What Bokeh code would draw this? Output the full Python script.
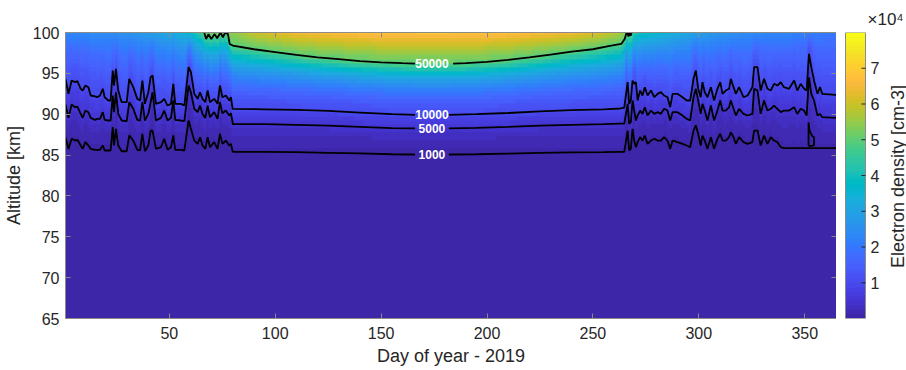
import numpy as np
from bokeh.plotting import figure
from bokeh.models import LinearColorMapper, FixedTicker, LinearAxis, Range1d
from bokeh.layouts import row
from bokeh.embed import file_html
from bokeh.resources import INLINE
from bokeh.core.properties import value

# ---------------- data ----------------
x_ticks = [50, 100, 150, 200, 250, 300, 350]
y_ticks = [65, 70, 75, 80, 85, 90, 95, 100]
cb_ticks = [10000, 20000, 30000, 40000, 50000, 60000, 70000]
cb_tick_labels = ["1", "2", "3", "4", "5", "6", "7"]
contour_levels = ["50000", "10000", "5000", "1000"]

# winter part 1 (days 1-80): contour altitudes [km]
w1_days = [1.0, 2.4, 3.9, 5.5, 6.6, 8.2, 9.1, 10.4, 11.8, 12.9, 14.9, 16.0, 17.3, 18.6, 19.5,
           21.2, 22.3, 23.3, 23.9, 24.8, 25.9, 27.5, 29.9, 31.1, 33.0, 34.9, 36.2, 37.3, 38.5,
           40.1, 41.2, 42.1, 43.7, 46.1, 47.6, 49.2, 50.8, 51.9, 52.8, 55.5, 57.1, 59.1, 60.2,
           61.8, 63.4, 64.5, 65.7, 67.0, 68.1, 69.2, 71.2, 72.8, 73.9, 75.1, 76.7, 78.3, 79.1, 79.9]
w1_c10000 = [94.33, 92.49, 94.12, 93.92, 94.04, 93.11, 92.90, 93.51, 93.31, 92.29, 92.17, 92.08,
             92.29, 93.11, 92.08, 91.68, 91.68, 95.35, 93.51, 95.55, 92.90, 91.47, 91.47, 94.33,
             93.31, 91.88, 91.68, 94.12, 91.27, 92.70, 94.53,
             94.74, 91.27, 91.47, 91.88, 91.06, 91.27, 93.72, 91.27, 91.27, 91.06, 95.76, 95.15,
             92.50, 91.88, 92.69, 91.88, 91.47, 92.90, 91.47, 91.88, 91.27, 93.51, 92.08, 92.29,
             91.68, 92.08, 90.66]
w1_c5000 = [91.19, 89.55, 91.19, 90.86, 90.94, 90.04, 89.55, 90.45, 90.25, 89.55, 89.31, 89.43,
            89.43, 90.25, 89.31, 89.23, 89.23, 92.29, 90.25, 92.69, 90.04, 89.23, 89.14, 91.47,
            90.66, 89.31, 89.23, 91.47, 89.23, 90.04, 91.47,
            92.69, 89.23, 89.55, 90.45, 89.23, 89.55, 91.68, 89.31, 89.23, 89.14, 93.51, 92.69,
            90.66, 90.25, 91.06, 90.04, 89.55, 91.06, 89.63, 90.25, 89.43, 91.47, 90.12, 90.45,
            89.84, 90.12, 89.02]
w1_c1000 = [87.19, 85.76, 86.99, 86.78, 86.87, 86.17, 85.76, 86.58, 86.17, 85.76, 85.64, 85.64,
            85.64, 86.17, 85.56, 85.56, 85.56, 88.42, 86.17, 88.21, 86.17, 85.47, 85.47, 87.40,
            86.78, 85.64, 85.56, 87.60, 85.47, 86.17, 88.00,
            88.00, 85.76, 85.96, 86.99, 85.64, 85.96, 87.40, 85.64, 85.64, 85.56, 89.23, 88.21,
            86.78, 86.37, 87.19, 86.17, 85.76, 87.19, 85.96, 86.58, 85.76, 87.60, 86.37, 86.78,
            86.17, 86.37, 85.47]

# summer part (days 80-263)
s_days = [80, 95, 110, 125, 140, 155, 166, 182, 195, 210, 225, 240, 255, 263]
s_c10000 = [90.66, 90.60, 90.53, 90.40, 90.20, 90.00, 89.93, 89.93, 90.00, 90.15, 90.35, 90.50, 90.60, 90.70]
s_c5000 = [88.80, 88.78, 88.70, 88.60, 88.45, 88.30, 88.27, 88.27, 88.32, 88.45, 88.60, 88.70, 88.78, 88.85]
s_c1000 = [85.40, 85.38, 85.35, 85.28, 85.20, 85.10, 85.07, 85.07, 85.10, 85.18, 85.27, 85.33, 85.37, 85.40]

# winter part 2 (days 265-365)
w2_days = [264.8, 266.4, 267.1, 267.9, 268.7, 269.5, 270.3, 271.1, 272.3, 273.4, 274.5, 275.8,
           277.4, 279.0, 280.5, 282.1, 283.6, 285.2, 286.5, 287.6, 289.9, 292.3, 294.3, 295.9,
           297.5, 298.6, 299.7, 300.9, 301.7, 302.8, 304.1, 305.7, 307.2, 308.8, 310.1, 311.2,
           312.7, 314.3, 315.1, 316.4, 317.5, 319.0, 321.1, 323.0, 325.3, 326.1, 327.7, 329.2,
           330.8, 332.4, 334.0, 335.5, 337.1, 338.7, 340.2, 342.6, 345.0, 346.5, 348.1, 349.7,
           350.9, 352.0, 353.1, 354.4, 356.0, 357.2, 358.3, 365.0]
w2_c10000 = [90.80, 93.92, 91.27, 91.68, 94.12, 93.72, 93.92, 91.68, 92.90, 92.29, 93.31, 92.29,
             92.90, 92.08, 92.49, 92.70, 92.29, 92.08, 90.86, 92.49, 92.49, 92.08, 91.68, 91.68,
             94.33, 95.35, 93.11, 92.08, 93.92, 92.70, 92.08, 93.31, 91.68, 93.11, 93.92, 92.49,
             92.90, 93.11, 94.33, 93.31, 92.49, 93.31, 92.08, 92.29, 93.31, 95.76, 95.76, 92.90,
             94.33, 93.11, 92.90, 93.72, 93.51, 93.92, 93.31, 93.11, 94.12, 92.90, 93.72, 93.11,
             92.90, 97.39, 95.76, 94.12, 92.49, 93.31, 92.49, 92.37]
w2_c5000 = [88.85, 91.27, 88.82, 89.02, 91.68, 90.45, 89.23, 89.84, 90.45, 90.04, 90.86, 89.84,
            90.45, 90.04, 90.25, 90.04, 90.66, 90.45, 89.23, 90.25, 90.25, 89.84, 89.43, 89.23,
            92.08, 93.11, 91.68, 90.04, 91.27, 90.45, 89.23, 91.06, 89.23, 90.45, 91.68, 90.45,
            90.45, 90.86, 91.68, 90.66, 89.84, 90.66, 90.04, 89.84, 90.04, 93.11, 92.90, 90.04,
            91.68, 90.45, 90.66, 91.06, 90.66, 90.25, 90.45, 90.45, 90.86, 90.04, 90.66, 90.45,
            89.84, 94.50, 92.49, 91.68, 89.84, 90.04, 89.64, 89.56]
w2_c1000 = [85.40, 88.00, 85.56, 85.76, 88.21, 86.78, 85.96, 86.58, 87.19, 86.78, 87.39, 86.37,
            86.78, 86.99, 86.78, 86.78, 87.19, 86.78, 85.76, 86.78, 86.58, 86.37, 86.17, 85.96,
            88.00, 88.62, 87.60, 86.17, 87.39, 86.78, 85.76, 87.19, 85.76, 86.99, 87.60, 86.78,
            86.78, 87.19, 87.80, 87.19, 86.37, 87.19, 86.58, 86.37, 86.58, 88.00, 88.00, 86.17,
            87.39, 86.37, 87.19, 86.78, 86.58, 85.96, 85.84, 85.84, 85.84, 85.84, 85.84, 85.84,
            85.84, 85.84, 85.84, 85.84, 85.84, 85.84, 85.84, 85.84]

# 50000 contour (summer only)
c50_days = [66.5, 67.4, 68.5, 69.8, 71.4, 72.6, 74.2, 75.3, 76.4, 77.7, 78.5, 80, 90, 100, 110,
            120, 130, 140, 150, 160, 166, 184, 190, 200, 210, 220, 230, 240, 250, 258, 263.4,
            265, 265.8, 266.3, 266.8, 267.3, 267.8, 268.3]
c50_alt = [100.0, 99.2, 99.8, 99.2, 99.8, 99.3, 100.0, 99.4, 100.0, 99.8, 98.6, 98.4, 97.95, 97.6,
           97.25, 96.95, 96.75, 96.5, 96.35, 96.25, 96.2, 96.2, 96.25, 96.4, 96.65, 96.95, 97.3,
           97.65, 97.95, 98.35, 98.6, 99.2, 99.9, 100.0, 99.5, 100.0, 99.6, 100.0]

# small closed 1000 contour near day 352
loop_days = [351.8, 351.8, 352.3, 353.6, 354.4, 354.4, 352.2, 351.8]
loop_alt = [86.2, 89.0, 88.0, 87.3, 87.2, 86.2, 86.1, 86.2]

# electron density at the top (100 km) and low-altitude floor [cm-3]
top_days = [1, 15, 30, 45, 55, 62, 66, 72, 79, 90, 110, 140, 175, 210, 240, 255, 263, 266,
            272, 285, 300, 320, 340, 365]
top_dens = [23000, 24000, 26000, 30000, 34000, 40000, 50000, 52000, 54000, 60000, 65000, 68000,
            69000, 68000, 65000, 61000, 57000, 51000, 40000, 35000, 29000, 25000, 23000, 20000]
floor_alts = [65.0, 80.0]
floor_dens = [100.0, 350.0]

# ---------------- style ----------------
FONT = "Liberation Sans"
TXT = "#262626"
FRAME = "#8a8a8a"
label_day = 174
CB_MAX = 80000

parula_rgb = [
    (0.2422, 0.1504, 0.6603), (0.2504, 0.1650, 0.7076), (0.2578, 0.1818, 0.7511), (0.2647, 0.1978, 0.7952),
    (0.2706, 0.2147, 0.8364), (0.2751, 0.2342, 0.8710), (0.2783, 0.2559, 0.8991), (0.2803, 0.2782, 0.9221),
    (0.2813, 0.3006, 0.9414), (0.2810, 0.3228, 0.9579), (0.2795, 0.3447, 0.9717), (0.2760, 0.3667, 0.9829),
    (0.2699, 0.3892, 0.9906), (0.2602, 0.4123, 0.9952), (0.2440, 0.4358, 0.9988), (0.2206, 0.4603, 0.9973),
    (0.1963, 0.4847, 0.9892), (0.1834, 0.5074, 0.9798), (0.1786, 0.5289, 0.9682), (0.1764, 0.5499, 0.9520),
    (0.1687, 0.5703, 0.9359), (0.1540, 0.5902, 0.9218), (0.1460, 0.6091, 0.9079), (0.1380, 0.6276, 0.8973),
    (0.1248, 0.6459, 0.8883), (0.1113, 0.6635, 0.8763), (0.0952, 0.6798, 0.8598), (0.0689, 0.6948, 0.8394),
    (0.0297, 0.7082, 0.8163), (0.0036, 0.7203, 0.7917), (0.0067, 0.7312, 0.7660), (0.0433, 0.7411, 0.7394),
    (0.0964, 0.7500, 0.7120), (0.1408, 0.7584, 0.6842), (0.1717, 0.7670, 0.6554), (0.1938, 0.7758, 0.6251),
    (0.2161, 0.7843, 0.5923), (0.2470, 0.7918, 0.5567), (0.2906, 0.7973, 0.5188), (0.3406, 0.8008, 0.4789),
    (0.3909, 0.8029, 0.4354), (0.4456, 0.8024, 0.3909), (0.5044, 0.7993, 0.3480), (0.5616, 0.7942, 0.3045),
    (0.6174, 0.7876, 0.2612), (0.6720, 0.7793, 0.2227), (0.7242, 0.7698, 0.1910), (0.7738, 0.7598, 0.1646),
    (0.8203, 0.7498, 0.1535), (0.8634, 0.7406, 0.1596), (0.9035, 0.7330, 0.1774), (0.9393, 0.7288, 0.2100),
    (0.9728, 0.7298, 0.2394), (0.9956, 0.7434, 0.2371), (0.9970, 0.7659, 0.2199), (0.9952, 0.7893, 0.2028),
    (0.9892, 0.8136, 0.1885), (0.9786, 0.8386, 0.1766), (0.9676, 0.8639, 0.1643), (0.9610, 0.8890, 0.1537),
    (0.9597, 0.9135, 0.1423), (0.9628, 0.9373, 0.1265), (0.9691, 0.9606, 0.1064), (0.9769, 0.9839, 0.0805)]
parula = ["#%02x%02x%02x" % tuple(int(round(c * 255)) for c in rgb) for rgb in parula_rgb]

# ---------------- field built from the read contours ----------------
all_days = np.array(w1_days + s_days + w2_days, dtype=float)
all_10000 = np.array(w1_c10000 + s_c10000 + w2_c10000)
all_5000 = np.array(w1_c5000 + s_c5000 + w2_c5000)
all_1000 = np.array(w1_c1000 + s_c1000 + w2_c1000)

grid_days = np.arange(1, 366)
grid_alts = np.arange(65.0, 100.0001, 0.5)
a1 = np.interp(grid_days, all_days, all_1000)
a5 = np.interp(grid_days, all_days, all_5000)
a10 = np.interp(grid_days, all_days, all_10000)
a50 = np.interp(grid_days, c50_days, c50_alt)
topv = np.interp(grid_days, top_days, top_dens)

field = np.zeros((len(grid_alts), len(grid_days)))
for j, d in enumerate(grid_days):
    pts = [(floor_alts[0], floor_dens[0]), (floor_alts[1], floor_dens[1]),
           (a1[j], 1000.0), (a5[j], 5000.0), (a10[j], 10000.0)]
    if c50_days[0] <= d <= c50_days[-1] and a50[j] < 99.9:
        pts.append((a50[j], 50000.0))
    pts.append((100.0, topv[j]))
    pts.sort()
    za = np.array([q[0] for q in pts])
    zv = np.log10(np.array([q[1] for q in pts]))
    field[:, j] = 10 ** np.interp(grid_alts, za, zv)

mapper = LinearColorMapper(palette=parula, low=0, high=CB_MAX)

# ---------------- main figure ----------------
p = figure(width=836, height=370, x_range=Range1d(1, 365), y_range=Range1d(65, 100),
           output_backend="svg", toolbar_location=None,
           min_border_left=64, min_border_right=0, min_border_top=32, min_border_bottom=52)
p.grid.visible = False
p.outline_line_color = FRAME
p.background_fill_color = "white"
p.border_fill_color = "white"

p.image(image=[field], x=0.5, y=64.75, dw=365, dh=35.5, color_mapper=mapper)


def broken(xs, ys):
    xo, yo = [], []
    for i in range(len(xs)):
        xo.append(xs[i]); yo.append(ys[i])
        if i + 1 < len(xs) and xs[i] < label_day < xs[i + 1]:
            xo.append(np.nan); yo.append(np.nan)
    return xo, yo


for dd, aa in [(w1_days + s_days + w2_days, w1_c10000 + s_c10000 + w2_c10000),
               (w1_days + s_days + w2_days, w1_c5000 + s_c5000 + w2_c5000),
               (w1_days + s_days + w2_days, w1_c1000 + s_c1000 + w2_c1000),
               (c50_days, c50_alt)]:
    xx, yy = broken(dd, aa)
    p.line(xx, yy, line_color="black", line_width=1.8)
p.line(loop_days, loop_alt, line_color="black", line_width=1.8)


def level_alt(xs, ys):
    for i in range(len(xs) - 1):
        if xs[i] < label_day < xs[i + 1]:
            return 0.5 * (ys[i] + ys[i + 1])


lab_y = [level_alt(c50_days, c50_alt), level_alt(s_days, s_c10000),
         level_alt(s_days, s_c5000), level_alt(s_days, s_c1000)]
p.text(x=[label_day] * 4, y=lab_y, text=contour_levels, text_color="white",
       text_font=value(FONT), text_font_style="bold", text_font_size="12px",
       text_align="center", text_baseline="middle")

p.xaxis.ticker = FixedTicker(ticks=x_ticks)
p.yaxis.ticker = FixedTicker(ticks=y_ticks)
p.xaxis.axis_label = "Day of year - 2019"
p.yaxis.axis_label = "Altitude [km]"
for ax in [p.xaxis[0], p.yaxis[0]]:
    ax.axis_line_color = FRAME
    ax.major_tick_line_color = FRAME
    ax.major_tick_in = 5
    ax.major_tick_out = 0
    ax.minor_tick_line_color = None
    ax.major_label_text_font = FONT
    ax.major_label_text_font_size = "16px"
    ax.major_label_text_color = TXT
    ax.axis_label_text_font = FONT
    ax.axis_label_text_font_size = "18px"
    ax.axis_label_text_font_style = "normal"
    ax.axis_label_text_color = TXT
p.xaxis.major_label_standoff = 8
p.yaxis.major_label_standoff = 6
p.xaxis.axis_label_standoff = 4
p.yaxis.axis_label_standoff = 6

for loc, tk in [("above", x_ticks), ("right", y_ticks)]:
    ax = LinearAxis(ticker=FixedTicker(ticks=tk), major_label_text_font_size="0px",
                    major_label_text_color=None,
                    major_label_standoff=0, major_tick_in=5, major_tick_out=0,
                    axis_line_color=FRAME, major_tick_line_color=FRAME,
                    minor_tick_line_color=None)
    p.add_layout(ax, loc)

# ---------------- colour bar panel (frame aligned with the main frame) ----------------
CBW = 70
bar_x0, bar_w = 9, 20
c = figure(width=CBW, height=370, x_range=Range1d(0, CBW), y_range=Range1d(0, CB_MAX),
           output_backend="svg", toolbar_location=None, min_border=0,
           min_border_top=32, min_border_bottom=52,
           x_axis_location=None, y_axis_location=None)
c.grid.visible = False
c.outline_line_color = None
c.background_fill_color = "white"
c.border_fill_color = "white"
grad = np.linspace(0, CB_MAX, 512).reshape(-1, 1)
c.image(image=[grad], x=bar_x0, y=0, dw=bar_w, dh=CB_MAX, color_mapper=mapper)
c.quad(left=[bar_x0], right=[bar_x0 + bar_w], bottom=[0], top=[CB_MAX],
       fill_color=None, line_color=FRAME, line_width=1)
c.segment(x0=[bar_x0 + bar_w - 4] * len(cb_ticks), x1=[bar_x0 + bar_w] * len(cb_ticks),
          y0=cb_ticks, y1=cb_ticks, line_color=TXT, line_width=1)
c.text(x=[bar_x0 + bar_w + 5] * len(cb_ticks), y=cb_ticks, text=cb_tick_labels,
       text_font=value(FONT), text_font_size="16px", text_color=TXT,
       text_align="left", text_baseline="middle")
c.text(x=[61], y=[CB_MAX * (318 - 176) / 286], text=["Electron density [cm-3]"], angle=np.pi / 2,
       text_font=value(FONT), text_font_size="18px", text_color=TXT,
       text_align="center", text_baseline="middle")
c.title.text = "×10⁴"
c.title.align = "left"
c.title.offset = 31
c.title.standoff = 7
c.title.text_font = FONT
c.title.text_font_size = "17px"
c.title.text_font_style = "normal"
c.title.text_color = TXT

layout = row(p, c)
open("out.html", "w").write(file_html(layout, INLINE))
